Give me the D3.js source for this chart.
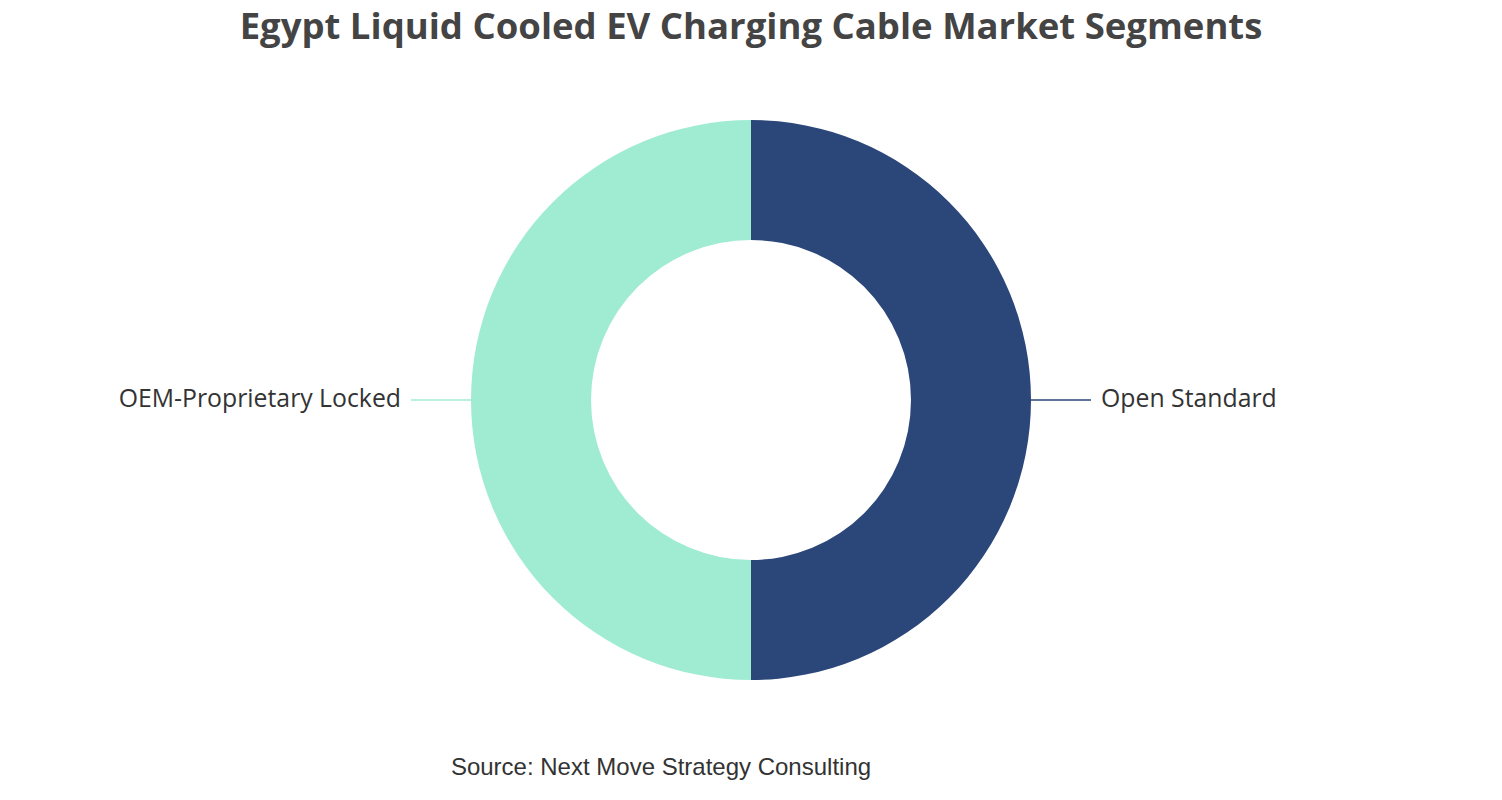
<!DOCTYPE html>
<html>
<head>
<meta charset="utf-8">
<script src="https://cdn.jsdelivr.net/npm/d3@7"></script>
<style>
  body { margin: 0; background: #fff; }
</style>
</head>
<body>
<svg id="chart" width="1502" height="800"></svg>
<script>
// 数据
const segments = ["Open Standard", "OEM-Proprietary Locked"];
const shares = [50, 50];
const segmentColors = ["#2b4779", "#a0ecd2"];

const width = 1502;
const height = 800;
const cx = 751;
const cy = 400;
const outerR = 280;
const innerR = 160;

const svg = d3.select("#chart");

// 标题
svg.append("text")
    .attr("x", width / 2)
    .attr("y", 39)
    .attr("text-anchor", "middle")
    .attr("font-family", "'Open Sans', 'Noto Sans', sans-serif")
    .attr("font-weight", "bold")
    .attr("font-size", "36.5px")
    .attr("fill", "#444")
    .text("Egypt Liquid Cooled EV Charging Cable Market Segments");

const data = segments.map((name, i) => ({ name, value: shares[i], color: segmentColors[i] }));

const pie = d3.pie()
    .value(d => d.value)
    .sort(null);

const arc = d3.arc()
    .innerRadius(innerR)
    .outerRadius(outerR);

const g = svg.append("g")
    .attr("transform", `translate(${cx}, ${cy})`);

const arcs = pie(data);

g.selectAll("path")
    .data(arcs)
    .enter()
    .append("path")
    .attr("d", arc)
    .attr("fill", d => d.data.color);

// 引导线和标签
arcs.forEach(d => {
    const mid = (d.startAngle + d.endAngle) / 2;
    const dir = Math.sin(mid) >= 0 ? 1 : -1;
    const x0 = Math.sin(mid) * outerR;
    const y0 = -Math.cos(mid) * outerR;
    const x1 = x0 + dir * 60;

    g.append("line")
        .attr("x1", x0)
        .attr("y1", y0)
        .attr("x2", x1)
        .attr("y2", y0)
        .attr("stroke", d.data.color)
        .attr("stroke-width", 1.5);

    g.append("text")
        .attr("x", x1 + dir * 10)
        .attr("y", y0)
        .attr("dy", "0.3em")
        .attr("text-anchor", dir > 0 ? "start" : "end")
        .attr("font-family", "'Open Sans', 'Noto Sans', sans-serif")
        .attr("font-size", "24.8px")
        .attr("fill", "#333")
        .text(d.data.name);
});

// 来源
svg.append("text")
    .attr("x", 661)
    .attr("y", 775)
    .attr("text-anchor", "middle")
    .attr("font-family", "'Liberation Sans', Arial, sans-serif")
    .attr("font-size", "24px")
    .attr("fill", "#333")
    .text("Source: Next Move Strategy Consulting");
</script>
</body>
</html>
